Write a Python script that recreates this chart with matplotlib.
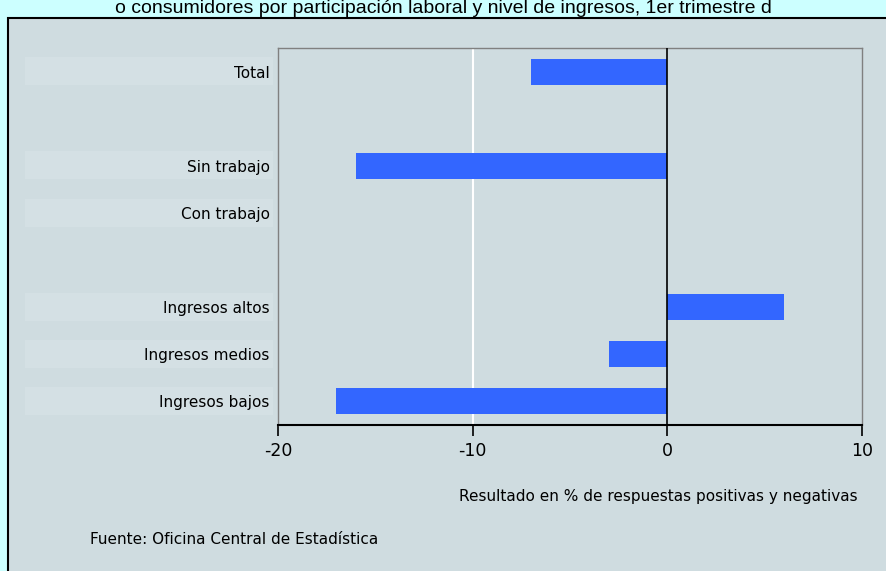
import matplotlib.pyplot as plt
from matplotlib.patches import Rectangle

# datos
categorias = ['Total', '', 'Sin trabajo', 'Con trabajo', '', 'Ingresos altos', 'Ingresos medios', 'Ingresos bajos']
valores = [-7, None, -16, 0, None, 6, -3, -17]
xticks = [-20, -10, 0, 10]

titulo = 'o consumidores por participación laboral y nivel de ingresos, 1er trimestre d'
eje_x = 'Resultado en % de respuestas positivas y negativas'
fuente = 'Fuente: Oficina Central de Estadística'

fondo = '#ccffff'
panel = '#cfdce0'
azul = '#3366ff'

W, H = 887, 571
fig = plt.figure(figsize=(W / 100, H / 100), dpi=100)
fig.patch.set_facecolor(fondo)

# panel con borde negro
fig.patches.append(Rectangle((8 / W, -0.01), 1.0, 1 - 18 / H + 0.01, transform=fig.transFigure,
                             facecolor=panel, edgecolor='black', linewidth=1.5, zorder=0))

# bandas suaves detras de las etiquetas
for i, c in enumerate(categorias):
    if not c:
        continue
    y = 71 + i * 47.2
    fig.patches.append(Rectangle((25 / W, 1 - (y + 14) / H), 248 / W, 28 / H, transform=fig.transFigure,
                                 facecolor='#d4e0e4', edgecolor='none', zorder=0))

fig.text(0.5, 1 - 8.5 / H, titulo, ha='center', va='center', fontsize=14, family='Liberation Sans')

ax = fig.add_axes([278 / W, 1 - 425 / H, (862 - 278) / W, (425 - 48) / H])
ax.set_zorder(2)
ax.set_facecolor(panel)

pos = list(range(len(categorias)))
vals = [v if v is not None else 0 for v in valores]
ax.barh(pos, vals, height=0.55, color=azul, zorder=3)

ax.set_xlim(-20, 10)
ax.set_ylim(len(categorias) - 0.5, -0.5)
ax.set_xticks(xticks)
ax.set_xticklabels([str(t) for t in xticks], fontsize=12.5)
ax.set_yticks(pos)
ax.set_yticklabels(categorias, fontsize=11)
ax.tick_params(axis='y', length=0, pad=6)
ax.tick_params(axis='x', length=8, width=1.2, direction='out', pad=4)

ax.axvline(-10, color='white', linewidth=1.5, zorder=1)
ax.axvline(0, color='black', linewidth=1.2, zorder=4)

for s in ['top', 'right', 'left']:
    ax.spines[s].set_color('#808080')
    ax.spines[s].set_linewidth(1)
ax.spines['bottom'].set_color('black')
ax.spines['bottom'].set_linewidth(1.5)

fig.text(858 / W, 1 - 497 / H, eje_x, ha='right', va='center', fontsize=11)
fig.text(90 / W, 1 - 540 / H, fuente, ha='left', va='center', fontsize=11)

fig.savefig('out.png', dpi=100, facecolor=fondo)
